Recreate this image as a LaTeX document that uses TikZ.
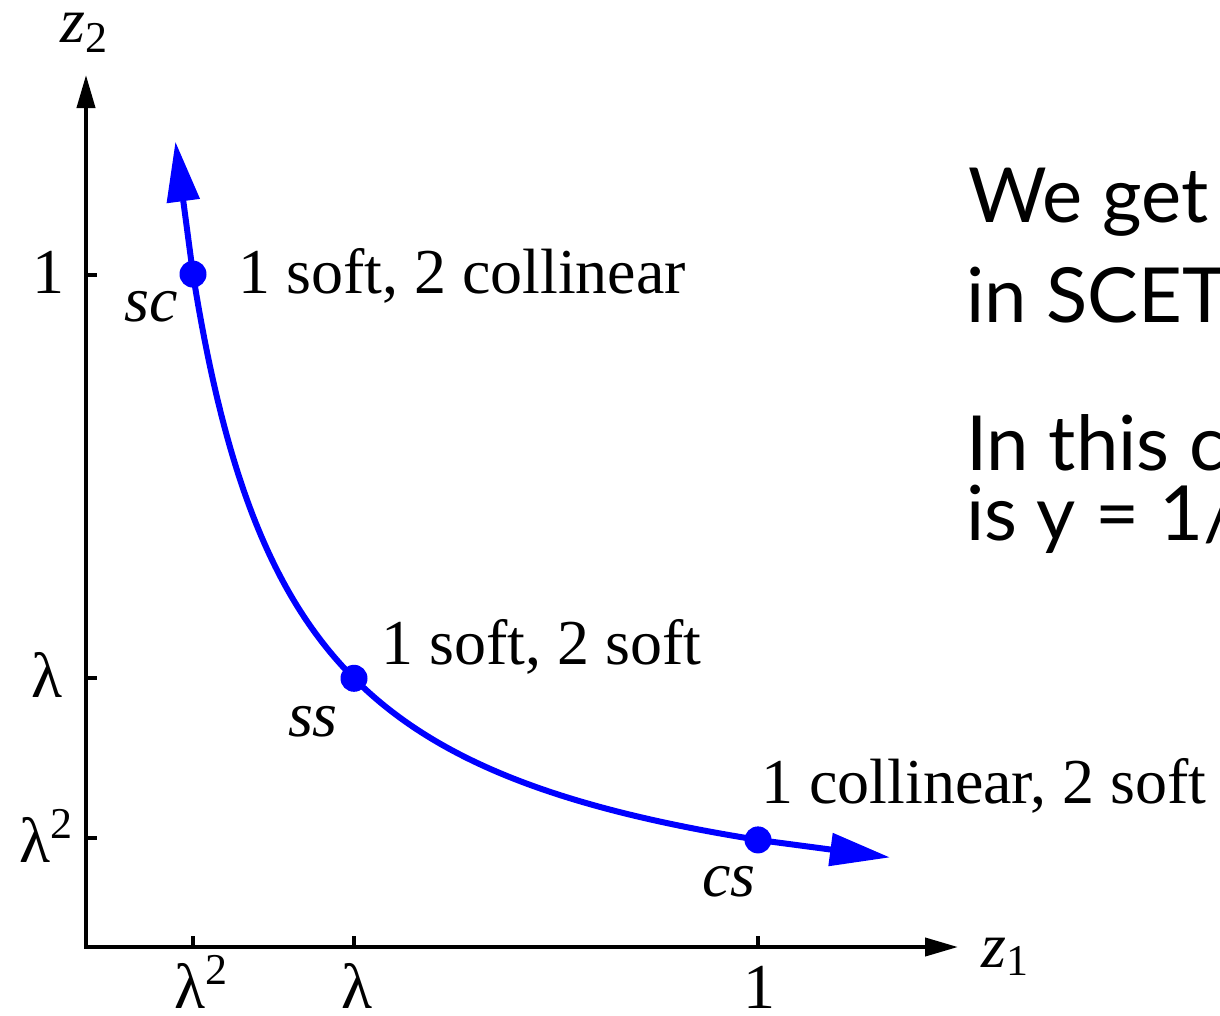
\documentclass[tikz,border=0pt]{standalone}
\usepackage{fontspec}
\setmainfont{Liberation Serif}
\newfontfamily\gillfont{Lato}
\usetikzlibrary{arrows.meta}
\definecolor{curveblue}{RGB}{0,0,255}
\newcommand{\bigfont}{\fontsize{64}{70}\selectfont}
\newcommand{\supfont}{\fontsize{44}{48}\selectfont}
\newcommand{\slidefont}{\fontsize{76}{84}\selectfont\gillfont}
\newcommand{\lamsq}{λ\raisebox{24pt}{\supfont 2}}
\tikzset{
  axtip/.tip={Triangle[length=33pt,width=18pt]},
  bluetip/.tip={Triangle[length=60pt,width=32pt]}
}
\begin{document}
\begin{tikzpicture}[x=1pt,y=-1pt,
  axis/.style={line width=4pt, black, line join=miter},
  tick/.style={line width=4pt, black},
  bluecurve/.style={line width=6pt, curveblue},
  dot/.style={circle, fill=curveblue, inner sep=0pt, minimum size=27pt},
  lbl/.style={inner sep=0pt, anchor=base west, font=\bigfont},
  ticklbl/.style={inner sep=0pt, anchor=base, font=\bigfont},
  botlbl/.style={ticklbl, text depth=0pt},
  slide/.style={inner sep=0pt, anchor=base west, font=\slidefont}]
\useasboundingbox (0,0) rectangle (1220,1015);
\clip (0,0) rectangle (1220,1015);

% axes
\coordinate (O) at (86,947);
\coordinate (ytip) at (86,75);
\coordinate (xtip) at (958,947);
\draw[axis, axtip-axtip] (ytip) -- (O) -- (xtip);

% ticks
\coordinate (ty1) at (86,275);
\coordinate (tyl) at (86,678);
\coordinate (tyl2) at (86,838);
\coordinate (tx1) at (758,947);
\coordinate (txl) at (354,947);
\coordinate (txl2) at (193,947);
\draw[tick] (ty1) -- ++(11,0);
\draw[tick] (tyl) -- ++(11,0);
\draw[tick] (tyl2) -- ++(11,0);
\draw[tick] (tx1) -- ++(0,-11);
\draw[tick] (txl) -- ++(0,-11);
\draw[tick] (txl2) -- ++(0,-11);

% tick labels
\node[ticklbl] (ly1) at (48,293) {1};
\node[ticklbl] (lyl) at (47,697) {λ};
\node[ticklbl] (lyl2) at (46,862) {\lamsq};
\node[botlbl] (lxl2) at (201,1008) {\lamsq};
\node[botlbl] (lxl) at (357,1008) {λ};
\node[botlbl] (lx1) at (759,1008) {1};

% axis labels
\node[lbl] (z2) at (60,42) {\textit{z}\raisebox{-10pt}{\supfont 2}};
\node[lbl] (z1) at (981,967) {\textit{z}\raisebox{-8pt}{\supfont 1}};

% curve  (hyperbola X*Y = const relative to the origin)
\draw[bluecurve] plot[domain=1.07:6.72, samples=200] ({86+100*\x},{947-720/\x});
\node[dot] (sc) at (193,274.1) {};
\node[dot] (ss) at (354,678.3) {};
\node[dot] (cs) at (758,839.9) {};
\coordinate (toptip) at (175.4,141.6);
\coordinate (righttip) at (890,857.4);
\draw[bluecurve, -bluetip] (sc.center) -- (toptip);
\draw[bluecurve, -bluetip] (cs.center) -- (righttip);

% point labels
\node[ticklbl, font=\bigfont\itshape] (scl) at (151,321) {sc};
\node[ticklbl, font=\bigfont\itshape] (ssl) at (313,736) {ss};
\node[ticklbl, font=\bigfont\itshape] (csl) at (729,896) {cs};
\node[lbl] (scd) at (238,293) {1 soft, 2 collinear};
\node[lbl] (ssd) at (381,664) {1 soft, 2 soft};
\node[lbl] (csd) at (761,803) {1 collinear, 2 soft};

% slide text (cut at the right edge)
\node[slide] (t1) at (968,222) {We get};
\node[slide] (t2) at (966,322) {in SCET};
\node[slide] (t3) at (966,470) {In this c};
\node[slide] (t4) at (966,540) {is y = 1/};
\end{tikzpicture}
\end{document}
